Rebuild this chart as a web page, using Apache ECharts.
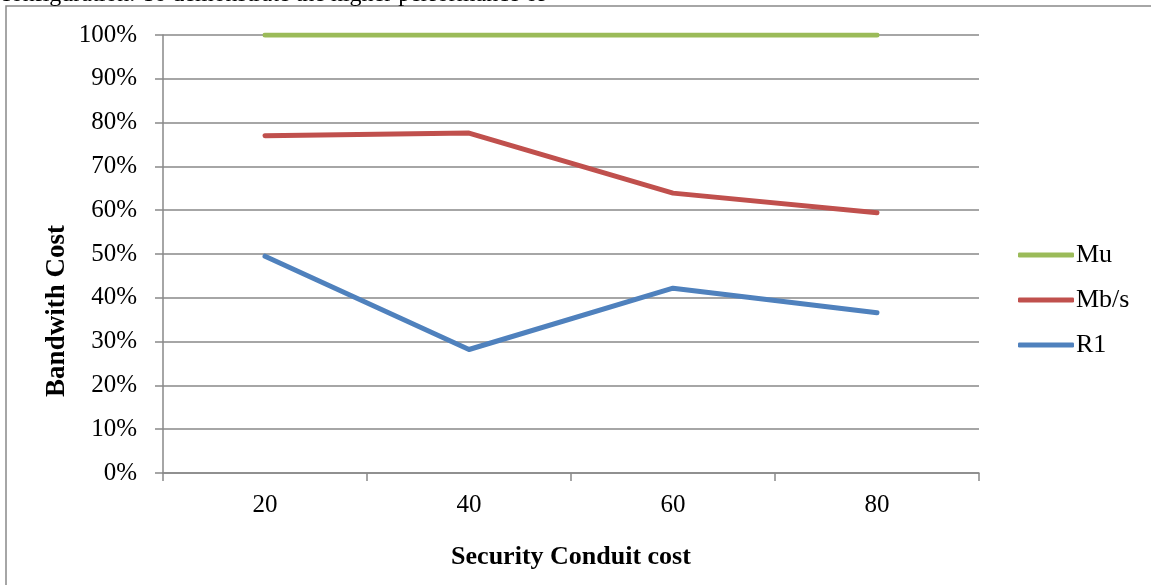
<!DOCTYPE html>
<html>
<head>
<meta charset="utf-8">
<script src="https://cdn.jsdelivr.net/npm/echarts@6/dist/echarts.min.js"></script>
<style>
  html, body { margin: 0; padding: 0; background: #ffffff; }
  #chart { width: 1151px; height: 585px; }
</style>
</head>
<body>
<div id="chart"></div>
<script>
// Security conduit cost on the x axis, bandwidth cost share (%) on the y axis
const categories = ['20', '40', '60', '80'];
const muValues = [100, 100, 100, 100];
const mbsValues = [77.0, 77.6, 63.9, 59.4];
const r1Values = [49.5, 28.2, 42.2, 36.6];
const yTicks = [0, 10, 20, 30, 40, 50, 60, 70, 80, 90, 100];

const serif = '"Liberation Serif", "DejaVu Serif", serif';
const gridGray = '#898989';

const chart = echarts.init(document.getElementById('chart'), null, { renderer: 'canvas' });

function lineSeries(name, data, color) {
  return {
    name: name,
    type: 'line',
    data: data,
    symbol: 'none',
    showSymbol: false,
    lineStyle: { color: color, width: 5, cap: 'round', join: 'round' },
    itemStyle: { color: color },
    emphasis: { disabled: true }
  };
}

chart.setOption({
  animation: false,
  backgroundColor: '#ffffff',
  grid: { left: 163, right: 172, top: 35, bottom: 112, containLabel: false },
  xAxis: {
    type: 'category',
    data: categories,
    boundaryGap: true,
    axisLine: { show: true, lineStyle: { color: gridGray, width: 1.5 } },
    axisTick: { show: true, length: 8, lineStyle: { color: gridGray, width: 1.5 } },
    axisLabel: { color: '#000', fontFamily: serif, fontSize: 25, margin: 20 },
    splitLine: { show: false }
  },
  yAxis: {
    type: 'value',
    min: yTicks[0],
    max: yTicks[yTicks.length - 1],
    interval: 10,
    axisLine: { show: true, lineStyle: { color: gridGray, width: 1.5 } },
    axisTick: { show: true, length: 8, lineStyle: { color: gridGray, width: 1.5 } },
    axisLabel: { color: '#000', fontFamily: serif, fontSize: 25, margin: 26, formatter: '{value}%' },
    splitLine: { show: true, lineStyle: { color: gridGray, width: 1.5 } }
  },
  legend: {
    orient: 'vertical',
    left: 1013,
    top: 237,
    itemWidth: 56,
    itemHeight: 5,
    itemGap: 19,
    icon: 'roundRect',
    textStyle: { color: '#000', fontFamily: serif, fontSize: 26, lineHeight: 21, padding: [0, 0, 0, -3] },
    data: ['Mu', 'Mb/s', 'R1']
  },
  graphic: [
    {
      type: 'rect',
      shape: { x: 6, y: 6, width: 1300, height: 800 },
      style: { fill: 'none', stroke: gridGray, lineWidth: 1.5 },
      silent: true
    },
    {
      type: 'text',
      left: 0,
      top: -17,
      style: { text: 'configuration. To demonstrate the higher performance of', font: '24px ' + serif, fill: '#000' },
      silent: true
    },
    {
      type: 'text',
      x: 57,
      y: 311,
      rotation: Math.PI / 2,
      style: { text: 'Bandwith Cost', font: 'bold 27px ' + serif, fill: '#000', align: 'center', verticalAlign: 'middle' },
      silent: true
    },
    {
      type: 'text',
      x: 571,
      y: 557,
      style: { text: 'Security Conduit cost', font: 'bold 26px ' + serif, fill: '#000', align: 'center', verticalAlign: 'middle' },
      silent: true
    }
  ],
  series: [
    lineSeries('Mu', muValues, '#9BBB59'),
    lineSeries('Mb/s', mbsValues, '#C0504D'),
    lineSeries('R1', r1Values, '#4F81BD')
  ]
});
</script>
</body>
</html>
